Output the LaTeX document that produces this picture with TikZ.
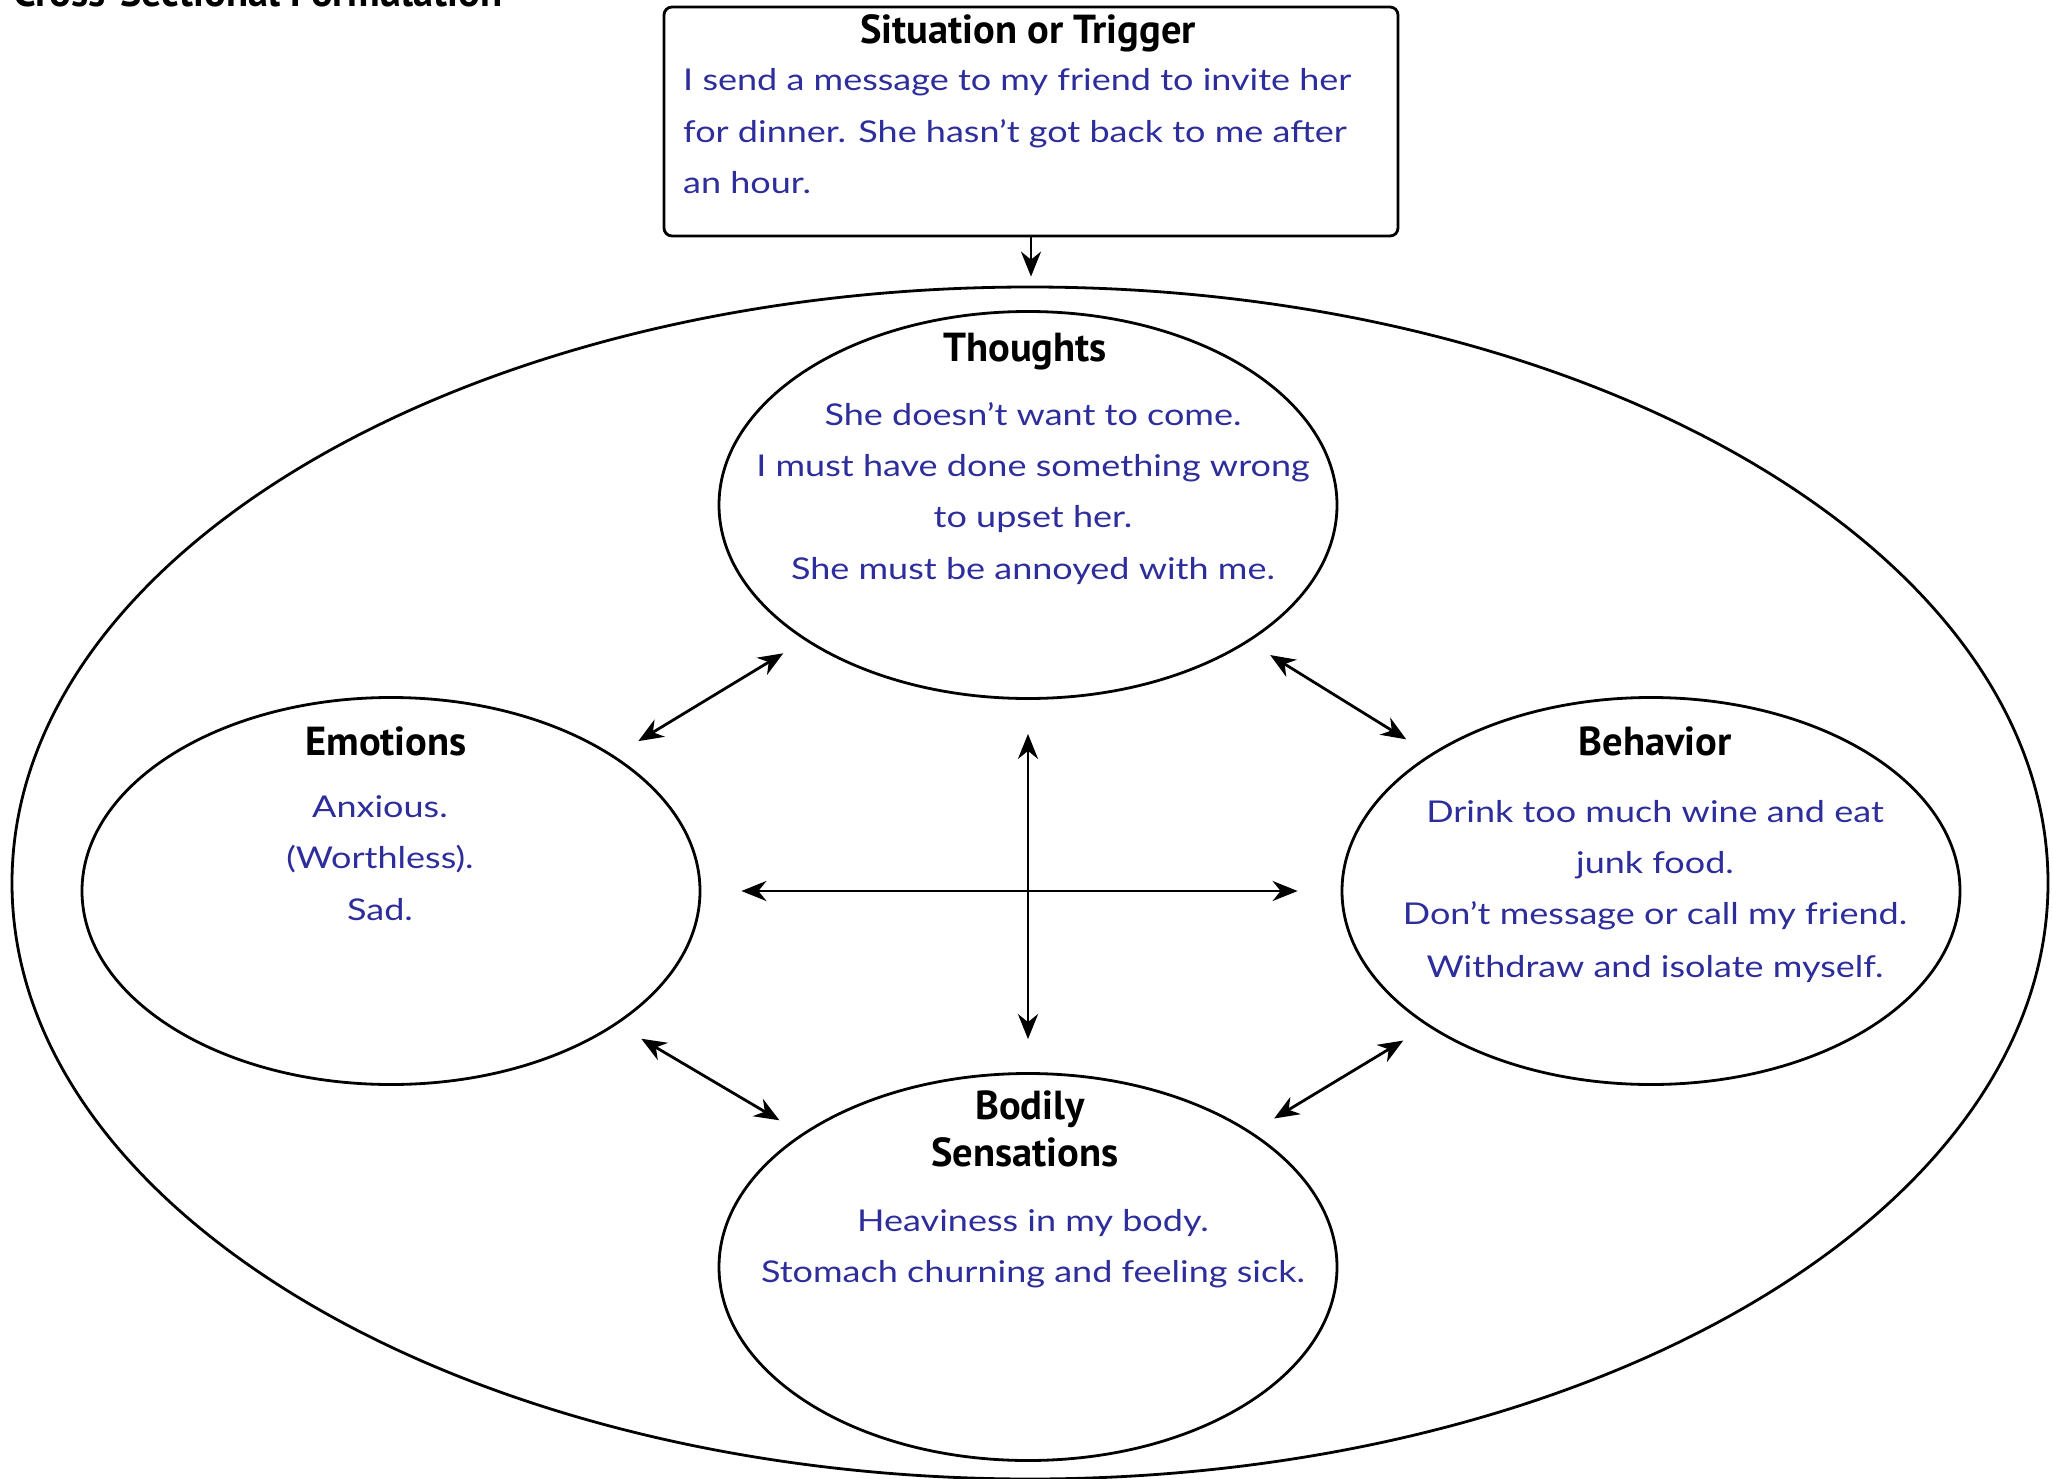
\documentclass[tikz,border=0pt]{standalone}
\usepackage{fontspec}
\setmainfont{Lato}
\newfontfamily\headfont{PT Sans}
\newfontfamily\handfont[FakeStretch=1.2]{Lato}
\usetikzlibrary{shapes.geometric,arrows.meta}
\definecolor{handblue}{RGB}{45,45,155}
\begin{document}
\begin{tikzpicture}[x=1pt,y=-1pt,
  oval/.style={draw, ellipse, line width=2.8pt, minimum width=618pt, minimum height=387pt, inner sep=0pt},
  head/.style={font=\headfont\bfseries\fontsize{40.5}{44}\selectfont, inner sep=0pt, anchor=base},
  hand/.style={font=\handfont\fontsize{30}{36}\selectfont, text=handblue, inner sep=0pt, anchor=base},
  tip/.style={Stealth[length=25pt,width=20pt,inset=8pt]},
  link/.style={{Stealth[length=25pt,width=20pt,inset=8pt]}-{Stealth[length=25pt,width=20pt,inset=8pt]}, line width=2.8pt},
  one/.style={-{Stealth[length=25pt,width=20pt,inset=8pt]}, line width=2.8pt},
]
\useasboundingbox (0,0) rectangle (2053,1479);

% title (cut off at top)
\node[head, anchor=base west] (title) at (13,7) {Cross-Sectional Formulation};

% trigger box
\node[draw, line width=2.8pt, rounded corners=8pt, minimum width=734pt, minimum height=229pt, inner sep=0pt] (box) at (1031,121.5) {};
\node[head] (boxh) at (1028,44) {Situation or Trigger};
\node[hand, anchor=base west] (b1) at (683,91) {I send a message to my friend to invite her};
\node[hand, anchor=base west] (b2) at (683,143) {for dinner. She hasn’t got back to me after};
\node[hand, anchor=base west] (b3) at (683,194) {an hour.};

% outer ellipse
\node[draw, ellipse, line width=2.8pt, minimum width=2036pt, minimum height=1192pt, inner sep=0pt] (outer) at (1030,883) {};

% four ellipses
\node[oval] (th) at (1028,505) {};
\node[oval] (em) at (391,891) {};
\node[oval] (bh) at (1651,891) {};
\node[oval] (bs) at (1028,1267) {};

% thoughts text
\node[head] (thh) at (1025,361) {Thoughts};
\node[hand] (t1) at (1033,425) {She doesn’t want to come.};
\node[hand] (t2) at (1033,476) {I must have done something wrong};
\node[hand] (t3) at (1033,527) {to upset her.};
\node[hand] (t4) at (1033,579) {She must be annoyed with me.};

% emotions text
\node[head] (emh) at (386,755) {Emotions};
\node[hand] (e1) at (380,817) {Anxious.};
\node[hand] (e2) at (380,868) {(Worthless).};
\node[hand] (e3) at (380,920) {Sad.};

% behavior text
\node[head] (bhh) at (1655,755) {Behavior};
\node[hand] (h1) at (1655,822) {Drink too much wine and eat};
\node[hand] (h2) at (1655,873) {junk food.};
\node[hand] (h3) at (1655,924) {Don’t message or call my friend.};
\node[hand] (h4) at (1655,977) {Withdraw and isolate myself.};

% bodily text
\node[head] (bsh1) at (1030,1119) {Bodily};
\node[head] (bsh2) at (1025,1166) {Sensations};
\node[hand] (s1) at (1033,1231) {Heaviness in my body.};
\node[hand] (s2) at (1033,1282) {Stomach churning and feeling sick.};

% connectors
\draw[one, shorten >=9pt] (box.south) -- (box.south |- outer.north);
\draw[link, shorten <=25pt, shorten >=28pt] (th) -- (em);
\draw[link, shorten <=25pt, shorten >=28pt] (th) -- (bh);
\draw[link, shorten <=28pt, shorten >=26pt] (em) -- (bs);
\draw[link, shorten <=28pt, shorten >=26pt] (bh) -- (bs);
\draw[link, shorten <=34pt, shorten >=33pt] (th.south) -- (bs.north);
\draw[link, shorten <=40pt, shorten >=43pt] (em.east) -- (bh.west);
\end{tikzpicture}
\end{document}
